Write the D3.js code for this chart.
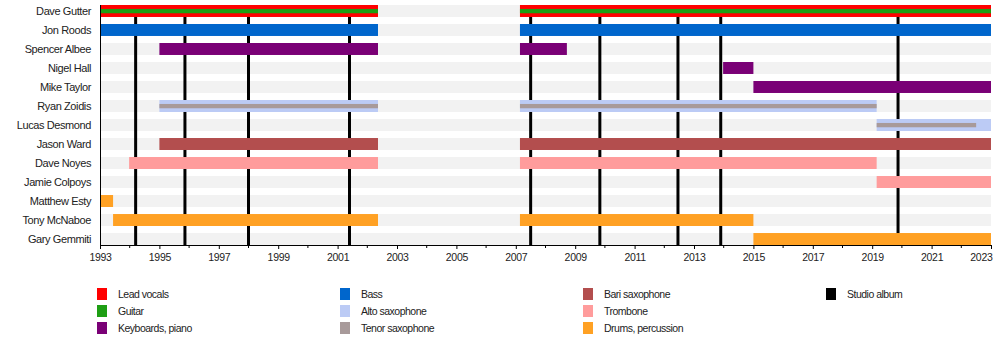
<!DOCTYPE html>
<html>
<head>
<meta charset="utf-8">
<script src="https://cdnjs.cloudflare.com/ajax/libs/d3/7.8.5/d3.min.js"></script>
<style>
  body { margin: 0; background: #fff; }
  svg { display: block; font-family: "Liberation Sans", Arial, sans-serif; }
</style>
</head>
<body>
<svg class="chart"></svg>
<script>
var members = ["Dave Gutter", "Jon Roods", "Spencer Albee", "Nigel Hall", "Mike Taylor",
  "Ryan Zoidis", "Lucas Desmond", "Jason Ward", "Dave Noyes", "Jamie Colpoys",
  "Matthew Esty", "Tony McNaboe", "Gary Gemmiti"];

var roles = ["Lead vocals", "Guitar", "Keyboards, piano", "Bass", "Alto saxophone",
  "Tenor saxophone", "Bari saxophone", "Trombone", "Drums, percussion"];
var roleColors = ["#ff0000", "#1e9e14", "#7a0076", "#0066cc", "#bccbf5",
  "#a89a9a", "#b34e4e", "#ff9c9c", "#ffa124"];

// member, role, from, to
var stints = [
  ["Dave Gutter", "Lead vocals", 1993, 2002.36], ["Dave Gutter", "Lead vocals", 2007.14, 2023],
  ["Dave Gutter", "Guitar", 1993, 2002.36], ["Dave Gutter", "Guitar", 2007.14, 2023],
  ["Jon Roods", "Bass", 1993, 2002.36], ["Jon Roods", "Bass", 2007.14, 2023],
  ["Spencer Albee", "Keyboards, piano", 1995, 2002.36], ["Spencer Albee", "Keyboards, piano", 2007.14, 2008.72],
  ["Nigel Hall", "Keyboards, piano", 2013.98, 2015],
  ["Mike Taylor", "Keyboards, piano", 2015, 2023],
  ["Ryan Zoidis", "Alto saxophone", 1995, 2002.36], ["Ryan Zoidis", "Alto saxophone", 2007.14, 2019.15],
  ["Ryan Zoidis", "Tenor saxophone", 1995, 2002.36], ["Ryan Zoidis", "Tenor saxophone", 2007.14, 2019.15],
  ["Lucas Desmond", "Alto saxophone", 2019.15, 2023],
  ["Lucas Desmond", "Tenor saxophone", 2019.15, 2022.5],
  ["Jason Ward", "Bari saxophone", 1995, 2002.36], ["Jason Ward", "Bari saxophone", 2007.14, 2023],
  ["Dave Noyes", "Trombone", 1993.98, 2002.36], ["Dave Noyes", "Trombone", 2007.14, 2019.15],
  ["Jamie Colpoys", "Trombone", 2019.15, 2023],
  ["Matthew Esty", "Drums, percussion", 1993, 1993.44],
  ["Tony McNaboe", "Drums, percussion", 1993.44, 2002.36], ["Tony McNaboe", "Drums, percussion", 2007.14, 2015],
  ["Gary Gemmiti", "Drums, percussion", 2015, 2023]
];

var albums = [1994.2, 1995.86, 1998.0, 2001.4, 2007.5, 2009.83, 2012.46, 2013.9, 2019.87];

var tickYears = d3.range(1993, 2024, 2);

var width = 1000, height = 345;
var thinRoles = ["Guitar", "Tenor saxophone"];

var x = d3.scaleLinear()
    .domain([1993, 2023])
    .range([100, 991]);

var y = d3.scaleBand()
    .domain(members)
    .range([5, 245])
    .paddingInner(0.37)
    .paddingOuter(0);

var color = d3.scaleOrdinal()
    .domain(roles.concat(["Studio album"]))
    .range(roleColors.concat(["#000000"]));

var chart = d3.select(".chart")
    .attr("width", width)
    .attr("height", height);

// background bands
chart.append("g").selectAll("rect")
    .data(members)
  .enter().append("rect")
    .attr("x", x(1993))
    .attr("y", function(d) { return y(d); })
    .attr("width", x(2023) - x(1993))
    .attr("height", y.bandwidth())
    .attr("fill", "#f2f2f2");

// studio albums
chart.append("g").selectAll("line")
    .data(albums)
  .enter().append("line")
    .attr("x1", function(d) { return x(d); })
    .attr("x2", function(d) { return x(d); })
    .attr("y1", 5)
    .attr("y2", 245)
    .attr("stroke", "#000")
    .attr("stroke-width", 3);

// stints
chart.append("g").selectAll("rect")
    .data(stints)
  .enter().append("rect")
    .attr("x", function(d) { return x(d[2]); })
    .attr("width", function(d) { return x(d[3]) - x(d[2]); })
    .attr("y", function(d) {
      var thin = thinRoles.indexOf(d[1]) >= 0;
      return y(d[0]) + (thin ? y.bandwidth() * 0.33 : 0);
    })
    .attr("height", function(d) {
      return thinRoles.indexOf(d[1]) >= 0 ? y.bandwidth() * 0.36 : y.bandwidth();
    })
    .attr("fill", function(d) { return color(d[1]); });

// left edge
chart.append("line")
    .attr("x1", 100.5).attr("x2", 100.5)
    .attr("y1", 5).attr("y2", 245)
    .attr("stroke", "#000")
    .attr("stroke-width", 1);

// member names
chart.append("g").selectAll("text")
    .data(members)
  .enter().append("text")
    .attr("x", 91)
    .attr("y", function(d) { return y(d) + y.bandwidth() / 2; })
    .attr("dy", ".35em")
    .style("text-anchor", "end")
    .style("font-size", "11px")
    .style("letter-spacing", "-0.4px")
    .attr("fill", "#222")
    .text(function(d) { return d; });

// axis
var axis = chart.append("g")
    .attr("transform", "translate(0,245)")
    .call(d3.axisBottom(x)
      .tickValues(tickYears)
      .tickFormat(d3.format("d"))
      .tickSize(4)
      .tickSizeOuter(0));
axis.select(".domain").attr("stroke-width", 1.2);
axis.selectAll("text")
    .attr("y", 9)
    .style("font-size", "10.5px")
    .style("letter-spacing", "-0.3px")
    .style("font-family", "'Liberation Sans', Arial, sans-serif")
    .attr("fill", "#222")
    .filter(function(d) { return d === 2023; })
    .attr("text-anchor", "end")
    .attr("x", 1);

chart.append("g")
    .attr("transform", "translate(0,245)")
    .selectAll("line")
    .data(d3.range(1994, 2023, 2))
  .enter().append("line")
    .attr("x1", function(d) { return x(d); })
    .attr("x2", function(d) { return x(d); })
    .attr("y1", 0)
    .attr("y2", 3)
    .attr("stroke", "#000");

// legend
var legendItems = ["Lead vocals", "Guitar", "Keyboards, piano", "Bass", "Alto saxophone",
  "Tenor saxophone", "Bari saxophone", "Trombone", "Drums, percussion", "Studio album"];

var legend = chart.append("g").selectAll("g")
    .data(legendItems)
  .enter().append("g")
    .attr("transform", function(d, i) {
      return "translate(" + (97 + Math.floor(i / 3) * 243) + "," + (288 + (i % 3) * 17) + ")";
    });

legend.append("rect")
    .attr("width", 10)
    .attr("height", 12)
    .attr("fill", function(d) { return color(d); });

legend.append("text")
    .attr("x", 21)
    .attr("y", 6)
    .attr("dy", ".35em")
    .style("font-size", "10.5px")
    .style("letter-spacing", "-0.5px")
    .attr("fill", "#222")
    .text(function(d) { return d; });
</script>
</body>
</html>
